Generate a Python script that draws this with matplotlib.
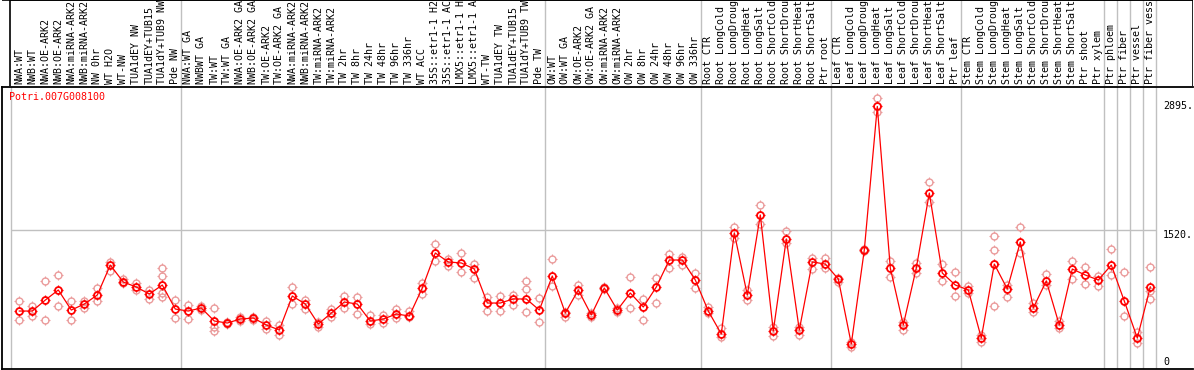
import numpy as np
import matplotlib.pyplot as plt
from matplotlib.path import Path

gene = 'Potri.007G008100'

labels = [
    'NWA:WT', 'NWB:WT', 'NWA:OE-ARK2', 'NWB:OE-ARK2', 'NWA:miRNA-ARK2',
    'NWB:miRNA-ARK2', 'NW 0hr', 'WT H2O', 'WT-NW', 'TUA1dEY NW',
    'TUA1dEY+TUB15', 'TUA1dY+TUB9 NW', 'Pde NW', 'NWA:WT GA', 'NWBWT GA',
    'TW:WT', 'TW:WT GA', 'NWA:OE-ARK2 GA', 'NWB:OE-ARK2 GA', 'TW:OE-ARK2',
    'TW:OE-ARK2 GA', 'NWA:miRNA-ARK2', 'NWB:miRNA-ARK2', 'TW:miRNA-ARK2',
    'TW:miRNA-ARK2', 'TW 2hr', 'TW 8hr', 'TW 24hr', 'TW 48hr', 'TW 96hr',
    'TW 336hr', 'WT ACC', '35S::etr1-1 H2O', '35S::etr1-1 ACC',
    'LMX5::etr1-1 H2O', 'LMX5::etr1-1 ACC', 'WT-TW', 'TUA1dEY TW',
    'TUA1dEY+TUB15', 'TUA1dY+TUB9 TW', 'Pde TW', 'OW:WT', 'OW:WT GA',
    'OW:OE-ARK2', 'OW:OE-ARK2 GA', 'OW:miRNA-ARK2', 'OW:miRNA-ARK2',
    'OW 2hr', 'OW 8hr', 'OW 24hr', 'OW 48hr', 'OW 96hr', 'OW 336hr',
    'Root CTR', 'Root LongCold', 'Root LongDrought', 'Root LongHeat',
    'Root LongSalt', 'Root ShortCold', 'Root ShortDrought', 'Root ShortHeat',
    'Root ShortSalt', 'Ptr root', 'Leaf CTR', 'Leaf LongCold',
    'Leaf LongDrought', 'Leaf LongHeat', 'Leaf LongSalt', 'Leaf ShortCold',
    'Leaf ShortDrought', 'Leaf ShortHeat', 'Leaf ShortSalt', 'Ptr leaf',
    'Stem CTR', 'Stem LongCold', 'Stem LongDrought', 'Stem LongHeat',
    'Stem LongSalt', 'Stem ShortCold', 'Stem ShortDrought', 'Stem ShortHeat',
    'Stem ShortSalt', 'Ptr shoot', 'Ptr xylem', 'Ptr phloem', 'Ptr fiber',
    'Ptr vessel', 'Ptr fiber vessel',
]

means = [
    622, 622, 744, 856, 633, 700, 800, 1133, 944, 889,
    811, 911, 644, 622, 656, 511, 489, 533, 544, 467,
    411, 789, 700, 478, 600, 722, 700, 511, 533, 589,
    567, 878, 1267, 1167, 1156, 1089, 711, 711, 756, 756,
    633, 1011, 600, 856, 578, 878, 633, 822, 667, 889,
    1189, 1189, 967, 622, 367, 1489, 800, 1689, 400, 1422,
    411, 1167, 1144, 978, 256, 1300, 2895, 1100, 467, 1100,
    1933, 1044, 911, 856, 322, 1144, 867, 1389, 656, 956,
    467, 1089, 1022, 967, 1133, 733, 322, 889,
]

reps = [
    [733, 522], [678, 567], [956, 522], [1022, 678], [733, 522],
    [733, 656], [878, 733], [1167, 1067], [978, 933], [933, 856],
    [856, 756], [1100, 1011, 822, 778], [744, 544], [689, 533], [678, 633],
    [656, 444, 400], [500, 478], [556, 511], [556, 522], [511, 422],
    [467, 356], [889, 700], [744, 644], [500, 444], [644, 556],
    [789, 656], [778, 589], [578, 478], [578, 489], [644, 544],
    [622, 556], [933, 811], [1367, 1178], [1200, 1122], [1267, 1056],
    [1144, 989], [778, 622], [789, 622], [800, 689], [956, 867, 611],
    [767, 500], [1200, 900], [611, 556], [911, 800], [600, 556],
    [889, 867], [656, 611], [1000, 656], [756, 522], [989, 711],
    [1256, 1100], [1222, 1133], [1044, 878], [667, 600], [433, 333],
    [1556, 1433], [856, 744], [1800, 1589], [444, 344], [1511, 1378],
    [444, 356], [1211, 1089], [1211, 1100], [989, 944], [278, 222],
    [1310, 1290], [2989, 2833], [1178, 1000], [500, 411], [1156, 1044],
    [2056, 1833], [1144, 956], [1056, 789], [900, 822], [356, 278],
    [1456, 1300, 678], [911, 778], [1556, 1267], [711, 611], [1033, 911],
    [511, 433], [1178, 978], [1111, 922], [1011, 900], [1311, 1022],
    [1056, 567], [389, 267], [1111, 844, 756],
]

# group borders come after these columns
separators = [12, 40, 52, 62, 72, 83, 84, 85, 86, 87]
y_ticks = [2895, 1520, 0]
y_ticklabels = ['2895.', '1520.', '0']
grid_value = 1520

W, H = 1194, 370
RED = '#ff0000'
PINK = '#eb9c9c'
GRAY = '#c0c0c0'
MONO = 'DejaVu Sans Mono'


def fx(px):
    return px / W


def fy(py):
    return 1 - py / H


def px2col(px):
    # column centres sit at 19.3 px + 13 px per column
    return (px - 19.3) / 13


fig = plt.figure(figsize=(W / 100, H / 100), dpi=100)

ax = fig.add_axes([fx(2), fy(369), fx(1193) - fx(2), fy(87) - fy(369)])
ax.set_xlim(px2col(2), px2col(1193))
ax.set_ylim(-22, 3111)
ax.set_xticks([])
ax.set_yticks([])
for side in ['left', 'bottom', 'top']:
    ax.spines[side].set_linewidth(1.3)
ax.spines['right'].set_visible(False)

lab = fig.add_axes([fx(2), fy(86), fx(1193) - fx(2), fy(0) - fy(86)])
lab.set_xlim(ax.get_xlim())
lab.set_ylim(0, 86)
lab.set_xticks([])
lab.set_yticks([])
for side in lab.spines:
    lab.spines[side].set_visible(False)
lab.axvline(px2col(10), color='black', lw=1.2)
lab.axvline(px2col(1193), color='black', lw=1.2)
lab.axhline(86, color='black', lw=1.2)
lab.hlines(85.6, px2col(10), px2col(1193), color='black', lw=1.2)

# group separators
ax.axvline(px2col(10.7), color=GRAY, lw=1, zorder=0)
for s in separators:
    ax.axvline(s + 0.42, color=GRAY, lw=1, zorder=0)
    lab.axvline(s + 0.42, color=GRAY, lw=1, zorder=0)
ax.hlines(grid_value, px2col(10.7), 87.42, color=GRAY, lw=1, zorder=0)

x = np.arange(len(labels))

for i, name in enumerate(labels):
    lab.text(i, 2, name, rotation=90, ha='center', va='bottom',
             fontsize=7.2, family=MONO, clip_on=False)

tick_path = Path(
    [(0, 1.0), (0, 1.4), (0, -1.0), (0, -1.4),
     (1.0, 0), (1.4, 0), (-1.0, 0), (-1.4, 0)],
    [Path.MOVETO, Path.LINETO] * 4)

rx = np.concatenate([[i] * len(r) for i, r in enumerate(reps)])
ry = np.concatenate(reps)
ax.plot(rx, ry, ls='none', marker='o', ms=5, mfc='none', mec=PINK, mew=1.0,
        zorder=2)
ax.plot(rx, ry, ls='none', marker=tick_path, ms=7, mec=PINK, mew=0.8,
        zorder=2)

ax.plot(x, means, color=RED, lw=0.9, zorder=3)
ax.plot(x, means, ls='none', marker='o', ms=5, mfc='none', mec=RED, mew=1.3,
        zorder=4)
ax.plot(x, means, ls='none', marker=tick_path, ms=7, mec=RED, mew=0.9,
        zorder=4)

ax.text(fx(9 - 2) * W / 1191, (369 - 97) / 282, gene, transform=ax.transAxes,
        color=RED, fontsize=7.2, family=MONO, ha='left', va='center')

for v, t in zip(y_ticks, y_ticklabels):
    va = 'center' if v == max(y_ticks) else ('top' if v else 'bottom')
    ax.text(px2col(1163), v, t, fontsize=7.2, family=MONO, ha='left', va=va)

fig.savefig('out.png', dpi=100)
